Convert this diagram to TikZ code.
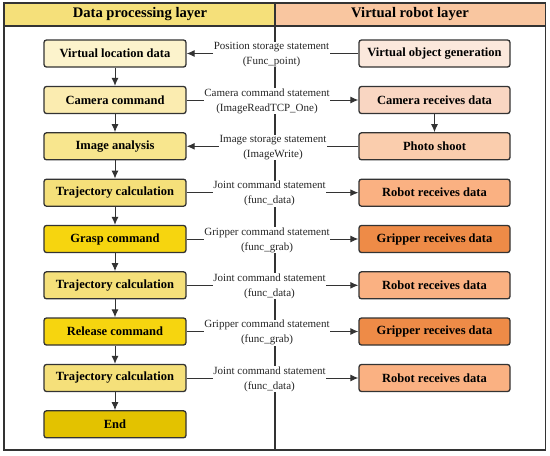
\documentclass[tikz,border=0pt]{standalone}
\usepackage{fontspec}
\setmainfont{Liberation Serif}
\usetikzlibrary{arrows.meta}
\definecolor{hdrL}{HTML}{F5E07A}
\definecolor{hdrR}{HTML}{F9C6A0}
\definecolor{cVL}{HTML}{FCF3CC}
\definecolor{cCC}{HTML}{FBECB0}
\definecolor{cIA}{HTML}{F8E68E}
\definecolor{cTC}{HTML}{F5E07A}
\definecolor{cGR}{HTML}{F6D50F}
\definecolor{cEnd}{HTML}{E3C200}
\definecolor{cVO}{HTML}{FBE8DC}
\definecolor{cCR}{HTML}{F9D6C2}
\definecolor{cPS}{HTML}{FACDAD}
\definecolor{cRR}{HTML}{FAB182}
\definecolor{cGD}{HTML}{EE8B47}
\definecolor{lineC}{HTML}{333333}
\begin{document}
\begin{tikzpicture}[x=1pt,y=-1pt,
  lbox/.style={draw=lineC, line width=1.3pt, rounded corners=2.5pt, minimum width=142pt, minimum height=27pt, inner sep=0pt, font=\bfseries\fontsize{12.5}{14}\selectfont},
  rbox/.style={lbox, minimum width=151pt},
  lab/.style={fill=white, align=center, inner sep=0.5pt, text=black!85, font=\fontsize{11}{15}\selectfont},
  conn/.style={draw=lineC, line width=1pt},
  arr/.style={conn, -{Latex[length=8pt,width=7pt]}},
  hdr/.style={font=\bfseries\fontsize{14.6}{16}\selectfont}
]
\useasboundingbox (0,0) rectangle (550,456);
% headers
\fill[hdrL] (4,3) rectangle (275,26);
\fill[hdrR] (275,3) rectangle (545.5,26);
\node[hdr] (hL) at (140,14.5) {Data processing layer};
\node[hdr] (hR) at (410,14.5) {Virtual robot layer};
\draw[lineC, line width=1.2pt] (4,26) -- (545.5,26);
\draw[lineC, line width=1.2pt] (275,3) -- (275,450);
\draw[lineC, line width=1.5pt] (4,3) rectangle (545.5,450);

% left boxes
\node[lbox, fill=cVL] (L1) at (115,53.5) {Virtual location data};
\node[lbox, fill=cCC] (L2) at (115,100) {Camera command};
\node[lbox, fill=cIA] (L3) at (115,146.3) {Image analysis};
\node[lbox, fill=cTC] (L4) at (115,192.7) {Trajectory calculation};
\node[lbox, fill=cGR] (L5) at (115,239) {Grasp command};
\node[lbox, fill=cTC] (L6) at (115,285.3) {Trajectory calculation};
\node[lbox, fill=cGR] (L7) at (115,331.5) {Release command};
\node[lbox, fill=cTC] (L8) at (115,378) {Trajectory calculation};
\node[lbox, fill=cEnd] (L9) at (115,424.3) {End};

% right boxes
\node[rbox, fill=cVO] (R1) at (434.5,53.5) {Virtual object generation};
\node[rbox, fill=cCR] (R2) at (434.5,100) {Camera receives data};
\node[rbox, fill=cPS] (R3) at (434.5,146.3) {Photo shoot};
\node[rbox, fill=cRR] (R4) at (434.5,192.7) {Robot receives data};
\node[rbox, fill=cGD] (R5) at (434.5,239) {Gripper receives data};
\node[rbox, fill=cRR] (R6) at (434.5,285.3) {Robot receives data};
\node[rbox, fill=cGD] (R7) at (434.5,331.5) {Gripper receives data};
\node[rbox, fill=cRR] (R8) at (434.5,378) {Robot receives data};

% labels
\node[lab] (T1) at (271.5,54.5) {Position storage statement\\(Func\_point)};
\node[lab] (T2) at (267,101) {Camera command statement\\(ImageReadTCP\_One)};
\node[lab] (T3) at (273,147.3) {Image storage statement\\(ImageWrite)};
\node[lab] (T4) at (269.5,193.7) {Joint command statement\\(func\_data)};
\node[lab] (T5) at (267,240) {Gripper command statement\\(func\_grab)};
\node[lab] (T6) at (269.5,286.3) {Joint command statement\\(func\_data)};
\node[lab] (T7) at (267,332.5) {Gripper command statement\\(func\_grab)};
\node[lab] (T8) at (269.5,379) {Joint command statement\\(func\_data)};

% horizontal connectors
\draw[arr] (T1.west |- L1.east) -- (L1.east);
\draw[conn] (R1.west) -- (T1.east |- R1.west);
\draw[conn] (L2.east) -- (T2.west |- L2.east);
\draw[arr] (T2.east |- R2.west) -- (R2.west);
\draw[arr] (T3.west |- L3.east) -- (L3.east);
\draw[conn] (R3.west) -- (T3.east |- R3.west);
\foreach \i in {4,...,8}{
  \draw[conn] (L\i.east) -- (T\i.west |- L\i.east);
  \draw[arr] (T\i.east |- R\i.west) -- (R\i.west);
}

% vertical arrows
\foreach \a/\b in {1/2,2/3,3/4,4/5,5/6,6/7,7/8,8/9}{
  \draw[arr] (L\a.south) -- (L\b.north);
}
\draw[arr] (R2.south) -- (R3.north);
\end{tikzpicture}
\end{document}
